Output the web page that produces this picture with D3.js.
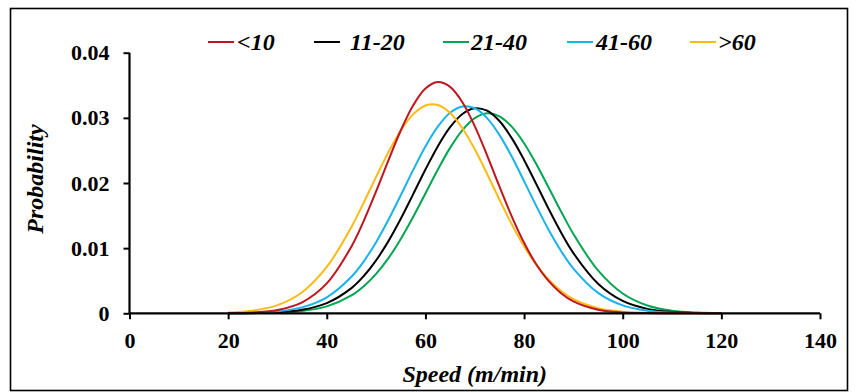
<!DOCTYPE html>
<html>
<head>
<meta charset="utf-8">
<script src="https://cdn.jsdelivr.net/npm/d3@7"></script>
<style>
  html, body { margin: 0; padding: 0; background: #ffffff; }
  svg { display: block; }
  text { font-family: "Liberation Serif", "Times New Roman", serif; font-weight: bold; fill: #000; }
</style>
</head>
<body>
<svg id="chart" width="858" height="392"></svg>
<script>
// ---- data ----
const speed = [20, 25, 30, 35, 40, 45, 47.5, 50, 52.5, 55, 57.5, 60, 62.5, 65, 67.5, 70, 72.5, 75, 77.5, 80, 82.5, 85, 87.5, 90, 95, 100, 105, 110, 115, 120];

const seriesNames = ["<10", "11-20", "21-40", "41-60", ">60"];
const seriesColors = ["#C0151E", "#000000", "#00A650", "#1AB2EC", "#FDBA12"];

const probLt10 = [0.00003, 0.00013, 0.00051, 0.00169, 0.00459, 0.01024, 0.01419, 0.01872, 0.02349, 0.02806, 0.03189, 0.03449, 0.03549, 0.03476, 0.03240, 0.02873, 0.02425, 0.01948, 0.01489, 0.01082, 0.00749, 0.00493, 0.00309, 0.00184, 0.00056, 0.00014, 0.00003, 0.00001, 0, 0];
const prob11to20 = [0.00001, 0.00004, 0.00016, 0.00054, 0.00157, 0.00387, 0.00572, 0.00812, 0.01108, 0.01451, 0.01826, 0.02207, 0.02562, 0.02857, 0.03060, 0.03147, 0.03110, 0.02951, 0.02689, 0.02354, 0.01980, 0.01599, 0.01240, 0.00924, 0.00454, 0.00190, 0.00068, 0.00021, 0.00005, 0.00001];
const prob21to40 = [0, 0.00002, 0.00010, 0.00035, 0.00106, 0.00274, 0.00415, 0.00605, 0.00847, 0.01141, 0.01477, 0.01840, 0.02204, 0.02539, 0.02812, 0.02996, 0.03070, 0.03024, 0.02865, 0.02611, 0.02288, 0.01928, 0.01563, 0.01218, 0.00658, 0.00304, 0.00120, 0.00041, 0.00012, 0.00003];
const prob41to60 = [0.00002, 0.00008, 0.00029, 0.00091, 0.00245, 0.00560, 0.00798, 0.01092, 0.01436, 0.01813, 0.02198, 0.02560, 0.02864, 0.03077, 0.03175, 0.03147, 0.02996, 0.02739, 0.02406, 0.02029, 0.01644, 0.01279, 0.00956, 0.00687, 0.00314, 0.00122, 0.00040, 0.00011, 0.00003, 0.00001];
const probGt60 = [0.00011, 0.00041, 0.00125, 0.00324, 0.00712, 0.01325, 0.01700, 0.02094, 0.02474, 0.02806, 0.03053, 0.03189, 0.03197, 0.03076, 0.02840, 0.02517, 0.02140, 0.01747, 0.01368, 0.01029, 0.00742, 0.00514, 0.00342, 0.00218, 0.00078, 0.00024, 0.00006, 0.00001, 0, 0];

const xTicks = [0, 20, 40, 60, 80, 100, 120, 140];
const yTicks = [0, 0.01, 0.02, 0.03, 0.04];

const seriesValues = [probLt10, prob11to20, prob21to40, prob41to60, probGt60];
// drawing order (last on top)
const drawOrder = [2, 1, 3, 4, 0];

// ---- layout ----
const svg = d3.select("#chart");
const plot = { left: 129.5, right: 820, top: 52.7, bottom: 313.3 };
const FONT = "'Liberation Serif', 'Times New Roman', serif";
const FS_TICK = "22px";
const FS_TITLE = "24px";

const x = d3.scaleLinear().domain([0, 140]).range([plot.left, plot.right]);
const y = d3.scaleLinear().domain([0, 0.04]).range([plot.bottom, plot.top]);

// outer frame
svg.append("rect")
  .attr("x", 10.5).attr("y", 8.5)
  .attr("width", 837).attr("height", 382)
  .attr("fill", "#fff").attr("stroke", "#000").attr("stroke-width", 1.6);

// curves
const line = d3.line()
  .x((d, i) => x(speed[i]))
  .y(d => y(d))
  .curve(d3.curveCatmullRom.alpha(0.5));

const gLines = svg.append("g");
drawOrder.forEach(k => {
  gLines.append("path")
    .datum(seriesValues[k])
    .attr("d", line)
    .attr("fill", "none")
    .attr("stroke", seriesColors[k])
    .attr("stroke-width", 2);
});

// axes
const xAxis = d3.axisBottom(x).tickValues(xTicks).tickSize(6).tickPadding(13).tickFormat(d3.format("d"));
const yAxis = d3.axisLeft(y).tickValues(yTicks).tickSize(6).tickPadding(14)
  .tickFormat(d => d === 0 ? "0" : d3.format(".2f")(d));

const gx = svg.append("g").attr("transform", `translate(0,${plot.bottom})`).call(xAxis);
const gy = svg.append("g").attr("transform", `translate(${plot.left},0)`).call(yAxis);

[gx, gy].forEach(g => {
  g.attr("font-family", FONT).attr("font-size", FS_TICK).attr("font-weight", "bold");
  g.select(".domain").attr("stroke", "#000").attr("stroke-width", 2.2)
    .attr("d", g === gx ? `M${plot.left},0H${plot.right}` : `M0,${plot.bottom}V${plot.top}`);
  g.selectAll(".tick line").attr("stroke", "#000").attr("stroke-width", 2);
  g.selectAll(".tick text")
    .style("font-family", FONT)
    .style("font-weight", "bold")
    .style("font-size", FS_TICK)
    .attr("fill", "#000");
});

// axis titles
svg.append("text")
  .attr("x", x(70)).attr("y", 382)
  .attr("text-anchor", "middle")
  .style("font-family", FONT)
  .style("font-size", FS_TITLE).style("font-style", "italic")
  .text("Speed (m/min)");

svg.append("text")
  .attr("transform", `translate(43,${(plot.top + plot.bottom) / 2 - 4}) rotate(-90)`)
  .attr("text-anchor", "middle")
  .style("font-family", FONT)
  .style("font-size", FS_TITLE).style("font-style", "italic")
  .text("Probability");

// legend
const legendX = [208, 314, 443, 567, 690];
const legendTextX = [237, 350, 471, 596, 718];
const legendY = 42;
const lg = svg.append("g");
seriesNames.forEach((name, i) => {
  lg.append("line")
    .attr("x1", legendX[i]).attr("x2", legendX[i] + 26)
    .attr("y1", legendY).attr("y2", legendY)
    .attr("stroke", seriesColors[i]).attr("stroke-width", 2);
  lg.append("text")
    .attr("x", legendTextX[i]).attr("y", legendY + 7.5)
    .style("font-family", FONT)
    .style("font-size", FS_TITLE).style("font-style", "italic")
    .text(name);
});
</script>
</body>
</html>
